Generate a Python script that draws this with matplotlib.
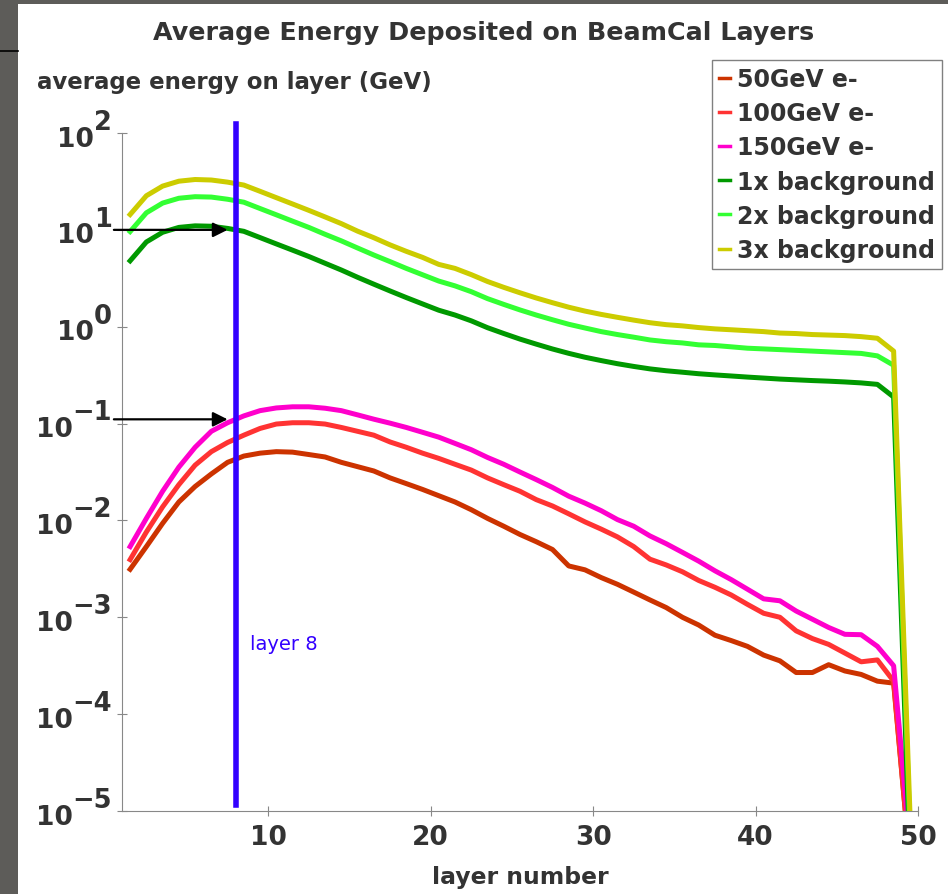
import numpy as np
import matplotlib
matplotlib.use('Agg')
import matplotlib.pyplot as plt
from matplotlib.patches import Rectangle
from matplotlib.lines import Line2D
from matplotlib.ticker import NullLocator

# Capas del BeamCal (centro de cada capa)
capas = np.arange(1.5, 50, 1.0)

# Energia media depositada por capa (GeV)
e50 = [3.13e-3, 5.37e-3, 9.33e-3, 1.55e-2, 2.24e-2, 3.02e-2, 3.98e-2, 4.62e-2, 4.95e-2, 5.13e-2,
       5.07e-2, 4.79e-2, 4.52e-2, 3.98e-2, 3.59e-2, 3.24e-2, 2.75e-2, 2.40e-2, 2.09e-2, 1.80e-2,
       1.55e-2, 1.29e-2, 1.05e-2, 8.71e-3, 7.16e-3, 6.03e-3, 5.01e-3, 3.39e-3, 3.09e-3, 2.57e-3,
       2.19e-3, 1.82e-3, 1.51e-3, 1.26e-3, 1.00e-3, 8.32e-4, 6.53e-4, 5.75e-4, 5.01e-4, 4.07e-4,
       3.55e-4, 2.69e-4, 2.69e-4, 3.24e-4, 2.79e-4, 2.57e-4, 2.19e-4, 2.09e-4, 3.0e-6]
e100 = [3.94e-3, 7.59e-3, 1.38e-2, 2.34e-2, 3.72e-2, 5.13e-2, 6.38e-2, 7.59e-2, 8.91e-2, 9.89e-2,
        0.102, 0.102, 0.0989, 0.0912, 0.0832, 0.0759, 0.0646, 0.0569, 0.0495, 0.0437,
        0.0380, 0.0331, 0.0275, 0.0234, 0.0200, 0.0164, 0.0141, 0.0117, 9.66e-3, 8.13e-3,
        6.76e-3, 5.37e-3, 3.98e-3, 3.47e-3, 2.95e-3, 2.40e-3, 2.04e-3, 1.70e-3, 1.36e-3, 1.10e-3,
        1.00e-3, 7.24e-4, 6.03e-4, 5.25e-4, 4.27e-4, 3.47e-4, 3.63e-4, 2.19e-4, 3.0e-6]
e150 = [5.37e-3, 1.05e-2, 2.0e-2, 3.55e-2, 5.69e-2, 8.32e-2, 0.102, 0.120, 0.136, 0.145,
        0.149, 0.149, 0.144, 0.136, 0.123, 0.111, 0.101, 0.0912, 0.0813, 0.0724,
        0.0624, 0.0537, 0.0447, 0.0380, 0.0316, 0.0264, 0.0219, 0.0178, 0.0151, 0.0126,
        0.0102, 8.71e-3, 6.92e-3, 5.75e-3, 4.68e-3, 3.80e-3, 3.02e-3, 2.45e-3, 1.95e-3, 1.55e-3,
        1.48e-3, 1.16e-3, 9.55e-4, 7.85e-4, 6.67e-4, 6.61e-4, 5.01e-4, 3.16e-4, 4.5e-6]
fondo1x = [4.79, 7.50, 9.44, 10.6, 11.0, 10.9, 10.35, 9.66, 8.32, 7.16,
           6.17, 5.31, 4.52, 3.85, 3.24, 2.75, 2.34, 2.00, 1.72, 1.48,
           1.32, 1.15, 0.977, 0.851, 0.745, 0.661, 0.589, 0.531, 0.484, 0.447,
           0.415, 0.389, 0.367, 0.351, 0.339, 0.327, 0.318, 0.310, 0.302, 0.295,
           0.288, 0.283, 0.278, 0.274, 0.269, 0.263, 0.254, 0.188, 3.3e-6]
fondo2x = [9.6, 15.0, 18.9, 21.2, 22.0, 21.8, 20.7, 19.3, 16.6, 14.3,
           12.3, 10.6, 9.0, 7.7, 6.5, 5.5, 4.7, 4.0, 3.44, 2.96,
           2.64, 2.30, 1.95, 1.70, 1.49, 1.32, 1.18, 1.06, 0.97, 0.89,
           0.83, 0.78, 0.73, 0.70, 0.68, 0.65, 0.64, 0.62, 0.60, 0.59,
           0.58, 0.57, 0.56, 0.55, 0.54, 0.53, 0.50, 0.40, 6.7e-6]
fondo3x = [14.4, 22.5, 28.3, 31.8, 33.1, 32.7, 31.1, 29.0, 25.0, 21.5,
           18.5, 15.9, 13.6, 11.6, 9.7, 8.3, 7.0, 6.0, 5.2, 4.4,
           4.0, 3.45, 2.93, 2.55, 2.24, 1.98, 1.77, 1.59, 1.45, 1.34,
           1.25, 1.17, 1.10, 1.05, 1.02, 0.98, 0.95, 0.93, 0.91, 0.89,
           0.86, 0.85, 0.83, 0.82, 0.81, 0.79, 0.76, 0.56, 1.0e-5]

series = [e50, e100, e150, fondo1x, fondo2x, fondo3x]
etiquetas = ['50GeV e-', '100GeV e-', '150GeV e-', '1x background', '2x background', '3x background']
colores = ['#cc3300', '#ff3333', '#ff00cc', '#009900', '#33ff33', '#cccc00']

capa_marcada = 8
exponentes = list(range(-5, 3))
xticks = [10, 20, 30, 40, 50]
gris_texto = '#333333'
W, H = 948, 895

fig = plt.figure(figsize=(W / 100, H / 100), dpi=100)
fig.patch.set_facecolor('#5d5c59')
# panel blanco detras de la grafica
fig.patches.append(Rectangle((18 / W, 0), 1, 1 - 5 / H, transform=fig.transFigure,
                             facecolor='white', edgecolor='none', zorder=-2))
fig.lines.append(Line2D([0, 18 / W], [1 - 52 / H, 1 - 52 / H], transform=fig.transFigure,
                        color='black', lw=1.2))

ax = fig.add_axes([122 / W, 1 - 812 / H, (918 - 122) / W, (812 - 134) / H])

for valores, lab, c in zip(series, etiquetas, colores):
    ax.plot(capas, valores, color=c, lw=3.6, label=lab)

ax.set_yscale('log')
ax.set_ylim(1e-5, 1e2)
ax.set_xlim(1, 50)
ax.set_xticks(xticks)
ax.set_xticklabels([str(v) for v in xticks], fontsize=19, fontweight='bold', color=gris_texto)
ax.set_yticks([10.0 ** k for k in exponentes])
ax.set_yticklabels([])
ax.yaxis.set_minor_locator(NullLocator())
ax.tick_params(direction='inout', length=7, width=0.8, color='#888888', pad=6)
for lado in ['top', 'right']:
    ax.spines[lado].set_visible(False)
for lado in ['left', 'bottom']:
    ax.spines[lado].set_color('#888888')
    ax.spines[lado].set_linewidth(0.8)

# etiquetas 10^k a mano (exponente grande, como en el original)
for k in exponentes:
    txt_exp = ax.annotate(str(k).replace('-', '\u2212'), xy=(0, 10.0 ** k),
                          xycoords=('axes fraction', 'data'), xytext=(-7.2, 8),
                          textcoords='offset points', ha='right', va='center',
                          fontsize=18.5, fontweight='bold', color=gris_texto,
                          annotation_clip=False)
    ax.annotate('10', xy=(0, 0.5), xycoords=txt_exp, xytext=(0, -12),
                textcoords='offset points', ha='right', va='center',
                fontsize=19, fontweight='bold', color=gris_texto, annotation_clip=False)

# linea de la capa 8
ax.axvline(capa_marcada, ymin=0.009, ymax=1.013, color='#3300ff', lw=4, clip_on=False, zorder=5)
ax.text(capa_marcada + 0.9, 5.4e-4, f'layer {capa_marcada}', color='#3300ff', fontsize=14, va='center')

# flechas hacia el valor en la capa 8
for serie in [fondo1x, e150]:
    y8 = 10 ** np.interp(capa_marcada, capas, np.log10(serie))
    ax.annotate('', xy=(capa_marcada - 0.5, y8), xytext=(0.5, y8),
                arrowprops=dict(arrowstyle='-|>', color='black', lw=1.6,
                                mutation_scale=22, shrinkA=0, shrinkB=0),
                annotation_clip=False, zorder=6)

leg = ax.legend(loc='upper right', bbox_to_anchor=(942 / W, 1 - 61 / H), bbox_transform=fig.transFigure,
                borderaxespad=0, fancybox=False, edgecolor='#808080', framealpha=1,
                handlelength=0.45, handletextpad=0.3, labelspacing=0.43, borderpad=0.3,
                prop={'weight': 'bold', 'size': 17})
leg.get_frame().set_linewidth(1.0)
for t in leg.get_texts():
    t.set_color(gris_texto)
for l in leg.get_lines():
    l.set_linewidth(2.5)

fig.text(484 / W, 1 - 33 / H, 'Average Energy Deposited on BeamCal Layers', ha='center', va='center',
         fontsize=18.3, fontweight='bold', color=gris_texto)
fig.text(37 / W, 1 - 83 / H, 'average energy on layer (GeV)', ha='left', va='center',
         fontsize=16.5, fontweight='bold', color=gris_texto)
fig.text(520 / W, 1 - 878 / H, 'layer number', ha='center', va='center',
         fontsize=16.9, fontweight='bold', color=gris_texto)

fig.savefig('out.png', dpi=100, facecolor=fig.get_facecolor())
